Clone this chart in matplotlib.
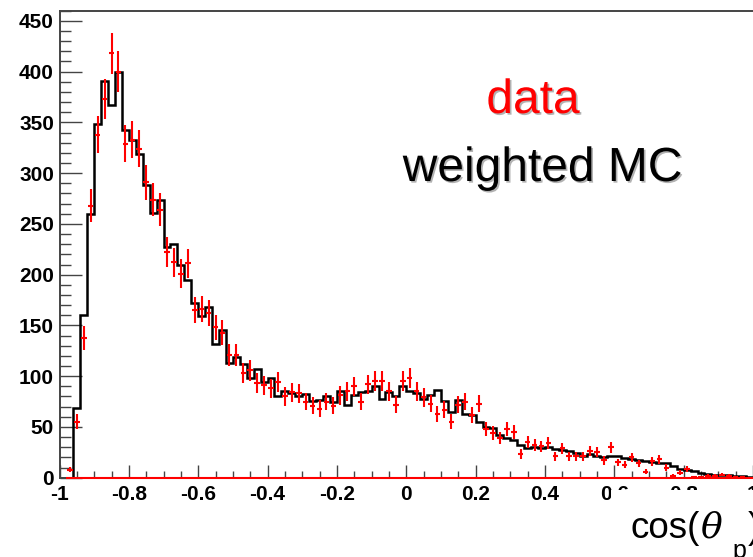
import numpy as np
import matplotlib.pyplot as plt
import matplotlib.patheffects as pe
from matplotlib.patches import Rectangle

plt.rcParams['font.family'] = ['Liberation Sans', 'DejaVu Sans']

# 100 bins of width 0.02 on [-1, 1]
edges = np.linspace(-1, 1, 101)
centers = 0.5 * (edges[:-1] + edges[1:])

# weighted MC (black histogram)
mc = [0, 0, 69, 160, 260, 348, 391, 367, 400, 342,
      333, 319, 288, 261, 274, 227, 230, 210, 195, 172,
      159, 168, 132, 145, 113, 119, 112, 98, 107, 94,
      98, 80, 85, 83, 80, 82, 76, 77, 80, 75,
      85, 72, 81, 84, 85, 90, 78, 84, 80, 90,
      85, 83, 78, 81, 86, 76, 65, 77, 63, 62,
      55, 50, 49, 42, 39, 37, 32, 29, 30, 29,
      30, 28, 27, 26, 24, 21, 23, 21, 20, 21,
      21, 19, 18, 17, 16, 15, 14, 14, 12, 9,
      8, 7, 5, 4, 3, 3, 3, 2, 2, 1]

# data (red points)
data = [0, 8, 55, 138, 268, 338, 373, 418, 400, 329,
        333, 324, 291, 274, 264, 222, 212, 201, 211, 165,
        166, 162, 148, 143, 121, 121, 103, 106, 93, 91,
        88, 94, 80, 84, 83, 75, 71, 68, 75, 71,
        81, 85, 90, 75, 92, 95, 95, 85, 72, 95,
        98, 85, 79, 73, 63, 67, 55, 72, 75, 62,
        73, 48, 44, 39, 48, 45, 23, 35, 32, 31,
        34, 21, 29, 21, 21, 21, 26, 25, 17, 30,
        15, 13, 20, 14, 6, 16, 18, 10, 2, 5,
        9, 1, 1, 2, 2, 3, 2, 1, 1, 0]

xticks = [-1, -0.8, -0.6, -0.4, -0.2, 0, 0.2, 0.4, 0.6, 0.8, 1]
xticklabels = ['-1', '-0.8', '-0.6', '-0.4', '-0.2', '0', '0.2', '0.4', '0.6', '0.8', '1']
yticks = [0, 50, 100, 150, 200, 250, 300, 350, 400, 450]

W, H = 753, 557
fig = plt.figure(figsize=(W / 100, H / 100), dpi=100)
ax = fig.add_axes([59.5 / W, 1 - 477.7 / H, 1 - 59.5 / W, (477.7 - 10.7) / H])

mc = np.array(mc, dtype=float)
data = np.array(data, dtype=float)

ax.stairs(mc, edges, baseline=0, color='black', lw=1.8, zorder=2)

m = data > 0
ax.errorbar(centers[m], data[m], yerr=np.sqrt(data[m]), xerr=0.008,
            fmt='none', ecolor='red', elinewidth=1.5, zorder=3)
ax.hlines(0, -0.98, 1, color='red', lw=1.5, zorder=4, clip_on=False)

ax.set_xlim(-1, 1)
ax.set_ylim(0, 460)

ax.set_xticks(xticks)
ax.set_xticklabels(xticklabels)
ax.set_xticks(np.arange(-1, 1.001, 0.05), minor=True)
ax.set_yticks(yticks)
ax.set_yticks(np.arange(0, 461, 10), minor=True)

for lab in ax.get_xticklabels() + ax.get_yticklabels():
    lab.set_fontweight('bold')
    lab.set_fontsize(15)

ax.tick_params(axis='x', which='major', direction='in', length=9.4, width=1, color='#444444', pad=5)
ax.tick_params(axis='x', which='minor', direction='in', length=5, width=1, color='#444444')
ax.tick_params(axis='y', which='major', direction='in', length=16, width=1, color='#444444', pad=4)
ax.tick_params(axis='y', which='minor', direction='in', length=8, width=1, color='#444444')

ax.spines['right'].set_visible(False)
for s in ['left', 'bottom', 'top']:
    ax.spines[s].set_color('#444444')
    ax.spines[s].set_linewidth(1.4)

shadow = [pe.SimplePatchShadow(offset=(1.2, -1.2), shadow_rgbFace='gray', alpha=0.6), pe.Normal()]
fig.text(533 / W, 1 - 113 / H, 'data', color='red', fontsize=34.5,
         ha='center', va='baseline', path_effects=shadow)
fig.text(542.5 / W, 1 - 181 / H, 'weighted MC', color='black', fontsize=34.5,
         ha='center', va='baseline', path_effects=shadow)

# white label box covering part of the tick labels
fig.add_artist(Rectangle((611 / W, 0), 1 - 611 / W, (H - 490) / H,
                         transform=fig.transFigure, facecolor='white',
                         edgecolor='none', zorder=5))
# x axis title cos(theta_p), drawn in pieces like the ROOT latex
fig.text(630 / W, 1 - 538 / H, 'cos(', fontsize=26.5, ha='left', va='baseline', zorder=6)
fig.text(700 / W, 1 - 538 / H, '\u03b8', fontsize=26, family='DejaVu Serif',
         style='italic', ha='left', va='baseline', zorder=6)
fig.text(732 / W, 1 - 558 / H, 'p', fontsize=18, ha='left', va='baseline', zorder=6)
fig.text(748 / W, 1 - 538 / H, ')', fontsize=26.5, ha='left', va='baseline', zorder=6)

plt.savefig('out.png', dpi=100)
